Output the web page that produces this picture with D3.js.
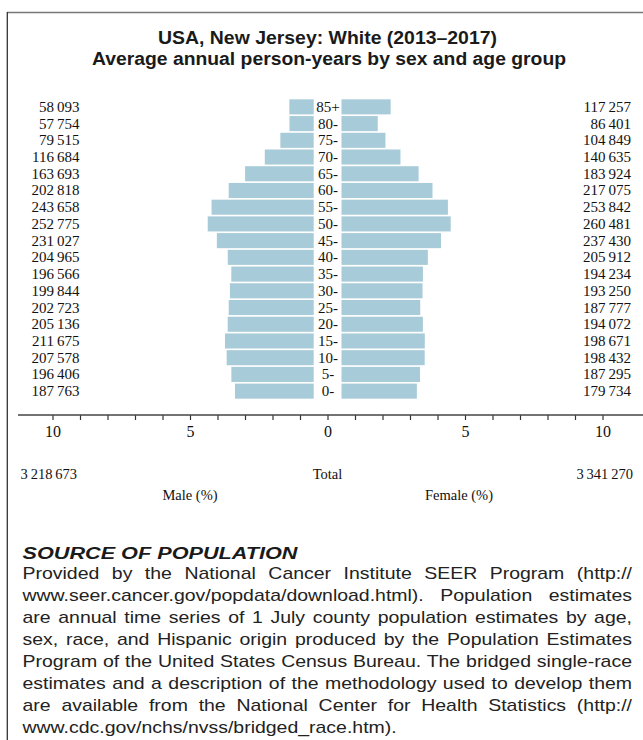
<!DOCTYPE html>
<html><head><meta charset="utf-8">
<script src="https://cdn.jsdelivr.net/npm/d3@7"></script>
<style>
html,body{margin:0;padding:0;background:#fff;}
svg{display:block;}
</style></head>
<body>
<svg id="c" width="643" height="740"></svg>
<script>
const ageGroups = ["85+","80-","75-","70-","65-","60-","55-","50-","45-","40-","35-","30-","25-","20-","15-","10-","5-","0-"];
const maleValues = [58093,57754,79515,116684,163693,202818,243658,252775,231027,204965,196566,199844,202723,205136,211675,207578,196406,187763];
const femaleValues = [117257,86401,104849,140635,183924,217075,253842,260481,237430,205912,194234,193250,187777,194072,198671,198432,187295,179734];
const maleTotal = 3218673;
const femaleTotal = 3341270;
const tickValues = d3.range(-10, 11, 1);
const titleLines = ["USA, New Jersey: White (2013\u20132017)", "Average annual person-years by sex and age group"];
const sourceTitle = "SOURCE OF POPULATION";
const sourceLines = [
 "Provided by the National Cancer Institute SEER Program (http://",
 "www.seer.cancer.gov/popdata/download.html). Population estimates",
 "are annual time series of 1 July county population estimates by age,",
 "sex, race, and Hispanic origin produced by the Population Estimates",
 "Program of the United States Census Bureau. The bridged single-race",
 "estimates and a description of the methodology used to develop them",
 "are available from the National Center for Health Statistics (http://",
 "www.cdc.gov/nchs/nvss/bridged_race.htm)."
];

const svg = d3.select("#c");
const serif = "'Liberation Serif','Times New Roman',serif";
const sans = "'Liberation Sans',Arial,Helvetica,sans-serif";
const ink = "#111";
const fmt = v => d3.format(",")(v).replace(/,/g, "\u2009");
const grand = maleTotal + femaleTotal;

// frame
svg.append("line").attr("x1",7).attr("x2",643).attr("y1",12.5).attr("y2",12.5).attr("stroke","#777").attr("stroke-width",1.5);
svg.append("line").attr("x1",7.3).attr("x2",7.3).attr("y1",12).attr("y2",740).attr("stroke","#333").attr("stroke-width",1.3);

// title
const titleWidths = [339, 474];
svg.selectAll("text.title").data(titleLines).enter().append("text")
  .attr("x",(d,i)=>i===0?158:92).attr("y",(d,i)=>43.5+i*21)
  .attr("font-family",sans).attr("font-weight","bold")
  .attr("font-size",18).attr("fill","#1a1a1a")
  .attr("textLength",(d,i)=>titleWidths[i]).attr("lengthAdjust","spacingAndGlyphs")
  .text(d=>d);

const x = d3.scaleLinear().domain([-10,10]).range([52.5,602.5]);
const y = d3.scaleBand().domain(ageGroups).range([98.5,399.5]).paddingInner(0.1).paddingOuter(0.05);
const pct = v => v / grand * 100;
const gapL = x(0) - 13.8, gapR = x(0) + 14.0;
const barColor = "#a7cbd8";

svg.selectAll("rect.m").data(ageGroups).enter().append("rect")
  .attr("x",(d,i)=>gapL - (x(pct(maleValues[i])) - x(0)))
  .attr("width",(d,i)=>x(pct(maleValues[i])) - x(0))
  .attr("y",d=>y(d)).attr("height",y.bandwidth()).attr("fill",barColor);
svg.selectAll("rect.f").data(ageGroups).enter().append("rect")
  .attr("x",gapR)
  .attr("width",(d,i)=>x(pct(femaleValues[i])) - x(0))
  .attr("y",d=>y(d)).attr("height",y.bandwidth()).attr("fill",barColor);

const rowText = (sel) => sel.attr("font-family",serif).attr("font-size",15).attr("fill",ink);
rowText(svg.selectAll("text.age").data(ageGroups).enter().append("text")
  .attr("x",x(0)+0.5).attr("y",d=>y(d)+y.bandwidth()/2+5).attr("text-anchor","middle").text(d=>d));
rowText(svg.selectAll("text.mv").data(ageGroups).enter().append("text")
  .attr("x",79.5).attr("y",d=>y(d)+y.bandwidth()/2+5).attr("text-anchor","end").text((d,i)=>fmt(maleValues[i])));
rowText(svg.selectAll("text.fv").data(ageGroups).enter().append("text")
  .attr("x",631).attr("y",d=>y(d)+y.bandwidth()/2+5).attr("text-anchor","end").text((d,i)=>fmt(femaleValues[i])));

// axis
const axis = d3.axisBottom(x).tickValues(tickValues).tickSize(5).tickPadding(6)
  .tickFormat(d => d % 5 === 0 ? String(Math.abs(d)) : "");
const ag = svg.append("g").attr("transform","translate(0,415)").call(axis);
ag.select(".domain").remove();
ag.selectAll(".tick line").attr("stroke","#333").attr("stroke-width",1.2);
ag.selectAll(".tick text").attr("font-family",serif).attr("font-size",16).attr("fill",ink);
svg.append("line").attr("x1",18).attr("x2",643).attr("y1",415).attr("y2",415).attr("stroke","#444").attr("stroke-width",1.4);

// totals
const small = (t) => t.attr("font-family",serif).attr("font-size",14.5).attr("fill",ink);
small(svg.append("text").attr("x",20.5).attr("y",479).text(fmt(maleTotal)));
small(svg.append("text").attr("x",633).attr("y",479).attr("text-anchor","end").text(fmt(femaleTotal)));
small(svg.append("text").attr("x",x(0)).attr("y",479).attr("text-anchor","middle").text("Total"));
small(svg.append("text").attr("x",190).attr("y",500).attr("text-anchor","middle").text("Male (%)"));
small(svg.append("text").attr("x",459).attr("y",500).attr("text-anchor","middle").text("Female (%)"));

// source
svg.append("text").attr("x",22.5).attr("y",558.5).attr("font-family",sans).attr("font-weight","bold").attr("font-style","italic")
  .attr("font-size",16).attr("fill","#1a1a1a")
  .attr("textLength",275).attr("lengthAdjust","spacingAndGlyphs").text(sourceTitle);

const left = 22.5, right = 632;
const src = svg.append("g");
const lines = src.selectAll("text.src").data(sourceLines).enter().append("text")
  .attr("y",(d,i)=>579.5+i*22)
  .attr("font-family",sans).attr("font-size",17).attr("fill","#222").text(d=>d);
// horizontal scale so the tightest line fits, then justify by word spacing
let maxW = 0;
lines.each(function(d,i){ if (i < sourceLines.length-1) maxW = Math.max(maxW, this.getComputedTextLength()); });
const target = right - left;
const sx = (target - 4) / maxW;
src.attr("transform", `translate(${left},0) scale(${sx},1)`);
lines.attr("x",0).each(function(d,i){
  if (i === sourceLines.length-1) return;
  const n = (d.match(/ /g)||[]).length;
  const w = this.getComputedTextLength();
  if (n>0) d3.select(this).attr("word-spacing", (target/sx - w)/n);
});
</script>
</body></html>
